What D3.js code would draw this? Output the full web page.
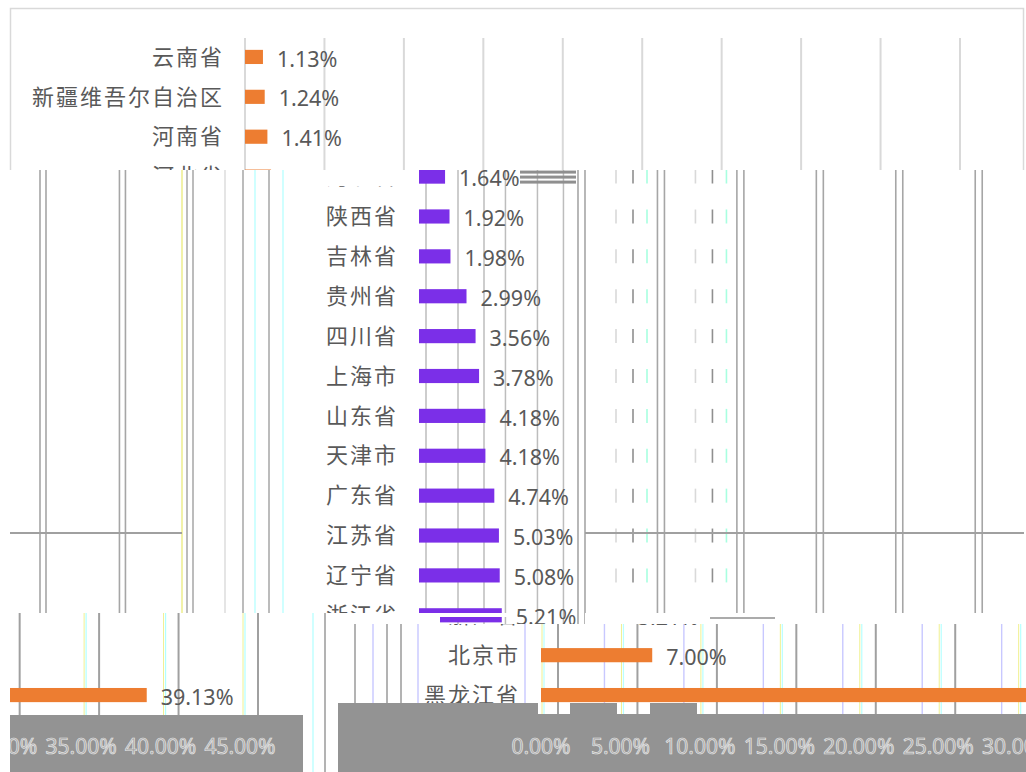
<!DOCTYPE html>
<html><head><meta charset="utf-8">
<script src="https://cdn.jsdelivr.net/npm/d3@7"></script>
<style>body{margin:0;background:#fff;overflow:hidden}svg{display:block}</style>
</head><body>
<svg id="c" width="1026" height="772"></svg>
<script>
// ---------- data ----------
const categories = ["云南省","新疆维吾尔自治区","河南省","河北省","陕西省","吉林省","贵州省","四川省","上海市","山东省","天津市","广东省","江苏省","辽宁省","浙江省","北京市","黑龙江省"];
const values = [1.13,1.24,1.41,1.64,1.92,1.98,2.99,3.56,3.78,4.18,4.18,4.74,5.03,5.08,5.21,7.00,39.13];
const tickValues = [0,5,10,15,20,25,30,35,40,45];
const tickLabels = ["0.00%","5.00%","10.00%","15.00%","20.00%","25.00%","30.00%","35.00%","40.00%","45.00%"];

// ---------- setup ----------
const W = 1026, H = 772;
const svg = d3.select("#c");
const x = d3.scaleLinear().domain([0,45]).range([245,960]);
const y = d3.scaleBand().domain(categories).range([37,715]).paddingInner(0.645).paddingOuter(0.3225);
const cy = c => y(c) + y.bandwidth()/2;
const fmt = d => d3.format(".2f")(d) + "%";
const ORANGE = "#ED7D31", PURPLE = "#7B2FE8";
const defs = svg.append("defs");
let clipId = 0;
function clipped(rects){
  const id = "cl" + (clipId++);
  const cp = defs.append("clipPath").attr("id", id);
  rects.forEach(r => cp.append("rect").attr("x", r[0]).attr("y", r[1]).attr("width", r[2]).attr("height", r[3]));
  return svg.append("g").attr("clip-path", `url(#${id})`);
}
function vlines(g, xs, y0, y1, color, w){
  g.append("g").selectAll("line").data(xs).join("line")
    .attr("x1", d=>d).attr("x2", d=>d).attr("y1", y0).attr("y2", y1)
    .attr("stroke", color).attr("stroke-width", w);
}
function bars(g, dx, color){
  g.append("g").selectAll("rect").data(values).join("rect")
    .attr("x", x(0)+dx).attr("y", (d,i)=>y(categories[i]))
    .attr("width", d => x(d)-x(0)).attr("height", y.bandwidth()).attr("fill", color);
}
function valueLabels(g, dx, color){
  g.append("g").selectAll("text").data(values).join("text")
    .attr("x", d => x(d)+dx+14).attr("y", (d,i)=>cy(categories[i])).attr("dy","0.45em")
    .attr("font-family","'Noto Sans', sans-serif").attr("font-size", 21.5).attr("fill", color)
    .text(fmt);
}
function catLabels(g, dx, color){
  g.append("g").selectAll("text").data(categories).join("text")
    .attr("x", x(0)-21+dx).attr("y", d=>cy(d)).attr("dy","0.35em")
    .attr("text-anchor","end").attr("letter-spacing", 2)
    .attr("font-family","'Noto Sans CJK SC', sans-serif").attr("font-size", 22).attr("fill", color)
    .text(d=>d);
}
function axisLabels(g, dx, yy){
  g.append("g").selectAll("text").data(tickValues).join("text")
    .attr("x", (d)=>x(d)+dx).attr("y", yy).attr("dy","0.35em").attr("text-anchor","middle")
    .attr("font-family","'Noto Sans', sans-serif").attr("font-size", 21)
    .attr("fill","#a3a3a3").attr("stroke","#e6e6e6").attr("stroke-width",0.7)
    .text((d,i)=>tickLabels[i]);
}

svg.append("rect").attr("width",W).attr("height",H).attr("fill","#fff");

// ---------- band A : clean top ----------
{
  const g = clipped([[0,0,W,170]]);
  g.append("rect").attr("x",10.5).attr("y",8.5).attr("width",1013).attr("height",900)
    .attr("fill","#fff").attr("stroke","#d9d9d9").attr("stroke-width",1.5);
  vlines(g, tickValues.map(t=>x(t)), 38, 715, "#d9d9d9", 2);
  bars(g, 0, ORANGE);
  catLabels(g, 0, "#595959");
  valueLabels(g, 0, "#595959");
}

// ---------- band B : shifted middle ----------
{
  const g = clipped([[0,170,W,443],[440,613,586,11]]);
  g.append("rect").attr("x",0).attr("y",170).attr("width",W).attr("height",460).attr("fill","#fff");
  // ghost lines left
  vlines(g, [0,5].flatMap(t=>[x(t)-205, x(t)-199]), 170, 625, "#a6a6a6", 1.6);
  vlines(g, [-63].map(o=>x(0)+o), 170, 625, "#eaea70", 1.2);
  vlines(g, [-58,-52,-2,24].map(o=>x(0)+o), 170, 625, "#a6a6a6", 1.5);
  vlines(g, [-20].map(o=>x(0)+o), 170, 625, "#dcdcdc", 1.5);
  vlines(g, [10,38].map(o=>x(0)+o), 170, 625, "#b0ffff", 1.2);
  // mid light lines
  vlines(g, [0,5].flatMap(t=>[x(t)+181, x(t)+213, x(t)+239]), 170, 625, "#bdbdbd", 1.5);
  // right doubled gridlines
  vlines(g, tickValues.filter(t=>x(t)+340<W).flatMap(t=>[x(t)+333, x(t)+340]), 170, 625, "#a6a6a6", 1.6);
  // dashed fragments per row
  const rowsD = categories.slice(3,14);
  [[371,"#d9d9d9"],[388,"#8f8f8f"],[402,"#a8ffe0"]].forEach(([o,c])=>{
    g.append("g").selectAll("line").data(rowsD.flatMap(r=>[0,5].map(t=>({r,t})))).join("line")
      .attr("x1",d=>x(d.t)+o).attr("x2",d=>x(d.t)+o)
      .attr("y1",d=>cy(d.r)-7).attr("y2",d=>cy(d.r)+7)
      .attr("stroke",c).attr("stroke-width",1.6);
  });
  // horizontal line
  g.append("line").attr("x1",10).attr("x2",182).attr("y1",533).attr("y2",533).attr("stroke","#a0a0a0").attr("stroke-width",2);
  g.append("line").attr("x1",585).attr("x2",1024).attr("y1",533).attr("y2",533).attr("stroke","#a0a0a0").attr("stroke-width",2);
  bars(g, 174, PURPLE);
  catLabels(g, 174, "#595959");
  valueLabels(g, 174, "#595959");
  // hide glitched row-3 label, add stripes
  const r3 = cy(categories[3]);
  g.append("rect").attr("x",300).attr("y",170).attr("width",112).attr("height",16).attr("fill","#fff");
  [-6,-1,4].forEach(o=>g.append("rect").attr("x",520).attr("y",r3+o).attr("width",56).attr("height",3).attr("fill","#8f8f8f"));
  // scratches in strip
  g.append("rect").attr("x",440).attr("y",613).attr("width",70).attr("height",4).attr("fill","#fff");
  g.append("rect").attr("x",585).attr("y",613).attr("width",441).attr("height",11).attr("fill","#fff");
  g.append("line").attr("x1",710).attr("x2",775).attr("y1",618).attr("y2",618).attr("stroke","#8f8f8f").attr("stroke-width",1.5);
}

// ---------- band C left piece ----------
{
  const g = clipped([[10,613,293,159]]);
  g.append("rect").attr("x",10).attr("y",613).attr("width",293).attr("height",159).attr("fill","#fff");
  vlines(g, tickValues.map(t=>x(t)-702), 613, 715, "#a0a0a0", 2);
  vlines(g, tickValues.map(t=>x(t)-715), 613, 715, "#b0ffff", 1.2);
  vlines(g, tickValues.map(t=>x(t)-717), 613, 715, "#f0f090", 1);
  bars(g, -720, ORANGE);
  valueLabels(g, -720, "#595959");
  g.append("rect").attr("x",10).attr("y",715).attr("width",293).attr("height",57).attr("fill","#939393");
  axisLabels(g, -720, 747);
}
// separator lines
vlines(svg, [313], 613, 772, "#b0ffff", 1.2);
vlines(svg, [325], 613, 772, "#a0a0a0", 1.6);

// ---------- band C right piece ----------
{
  const g = clipped([[338,624,688,148]]);
  g.append("rect").attr("x",338).attr("y",613).attr("width",688).attr("height",159).attr("fill","#fff");
  vlines(g, [-203,-171,-157].map(o=>x(0)+313+o), 613, 715, "#a0a0a0", 1.6);
  vlines(g, [-185,-140].map(o=>x(0)+313+o), 613, 715, "#c8c8ff", 1.4);
  vlines(g, tickValues.map(t=>x(t)+313), 613, 715, "#a0a0a0", 2);
  vlines(g, tickValues.map(t=>x(t)+299), 613, 715, "#b8ffff", 1.2);
  vlines(g, tickValues.map(t=>x(t)+297), 613, 715, "#f0f090", 1);
  vlines(g, tickValues.map(t=>x(t)+280), 613, 715, "#c8c8ff", 1.4);
  bars(g, 296, ORANGE);
  catLabels(g, 296, "#595959");
  valueLabels(g, 296, "#595959");
  const xg = [538,570,617,650,697];
  g.append("path").attr("fill","#939393")
    .attr("d", `M338,703H${xg[0]}V714H${xg[1]}V703H${xg[2]}V714H${xg[3]}V703H${xg[4]}V714H1026V772H338Z`);
  axisLabels(g, 296, 747);
}
</script>
</body></html>
